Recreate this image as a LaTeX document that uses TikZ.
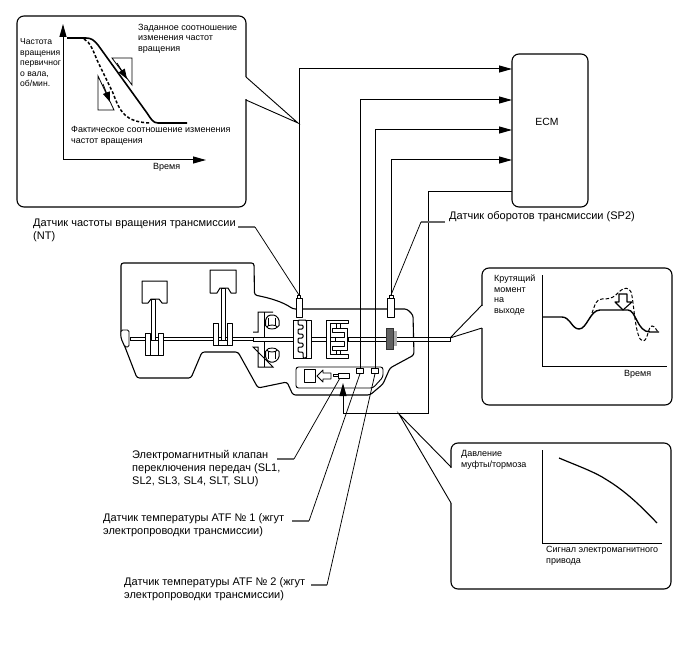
\documentclass[tikz,border=0pt]{standalone}
\usepackage{fontspec}
\setmainfont{Liberation Sans}
\usetikzlibrary{arrows.meta}
\tikzset{
  x=1pt,y=-1pt,
  flow/.style={line width=1pt,black,-{Triangle[length=13pt,width=7pt]}},
  lead/.style={line width=0.75pt,black},
  leadbar/.style={line width=1.3pt,black!60},
  panel/.style={line width=1.1pt,black,rounded corners=7pt,fill=white},
  part/.style={line width=0.9pt,black,fill=white,line join=round},
  note/.style={font=\fontsize{9}{10.5}\selectfont,inner sep=0pt,anchor=west,align=left},
  tag/.style={font=\fontsize{11}{12.8}\selectfont,inner sep=0pt,anchor=west,align=left},
  curve/.style={line width=1.6pt,black,line join=round},
  dashcurve/.style={line width=1.5pt,black,dash pattern=on 3pt off 2pt},
}
\begin{document}
\begin{tikzpicture}
\useasboundingbox (0,0) rectangle (688,658);

% Callout panels: the border is opened where the pointer leaves it
\draw[panel] (17,16) rectangle (246,207);
\fill[white] (245,77.5) -- (247,77.5) -- (247,99.5) -- (245,99.5) -- cycle;
\draw[lead,line width=0.9pt] (246,77) -- (298,123) -- (246,100);

\draw[panel] (482,268) rectangle (672,405);
\fill[white] (481,305.5) -- (483,305.5) -- (483,327.5) -- (481,327.5) -- cycle;
\draw[lead,line width=0.9pt] (482,305) -- (450,338) -- (482,328);

\draw[panel] (451,443) rectangle (671,589);
\fill[white] (450,467.5) -- (452,467.5) -- (452,502.5) -- (450,502.5) -- cycle;
\draw[lead,line width=0.9pt] (451,467) -- (399,414) -- (451,503);

% Speed ratio graph
\coordinate (gaO) at (63,160);
\coordinate (gaY) at (63,24);
\coordinate (gaX) at (206,160);
\draw[flow] (gaO) -- (gaY);
\draw[flow] (gaO) -- (gaX);
\draw[curve] (67,38) -- (86,38) .. controls (91,38) and (94,40) .. (98,45) -- (147,113) .. controls (151,119) and (153,123) .. (158,123) -- (187,123);
\draw[dashcurve] (84,39) .. controls (90,42) and (93,50) .. (97,60) -- (113,93) .. controls (120,112) and (125,122) .. (150,123);
\draw[line width=0.8pt] (112,58) -- (132,58) -- (132,85) -- cycle;
\draw[line width=0.8pt] (98,76) -- (98,110) -- (114,110) -- cycle;
\coordinate (rA) at (117,63);
\coordinate (rB) at (127,79);
\coordinate (rC) at (103,84);
\coordinate (rD) at (110,102);
\draw[line width=0.8pt,-{Triangle[length=10pt,width=7pt]}] (rA) -- (rB);
\draw[line width=0.8pt,-{Triangle[length=10pt,width=7pt]}] (rC) -- (rD);
\node[note] (tGiven) at (138,38.5) {Заданное соотношение\\изменения частот\\вращения};
\node[note,font=\fontsize{8.6}{10.5}\selectfont] (tInput) at (20,63) {Частота\\вращения\\первичног\\о вала,\\об/мин.};
\node[note] (tActual) at (71,136) {Фактическое соотношение изменения\\частот вращения};
\node[note] (tTimeA) at (153,167) {Время};

% Torque graph
\coordinate (gbO) at (542,366);
\draw[line width=0.8pt] (542,275) -- (gbO) -- (667,366);
\draw[curve,line width=1.4pt] (542,317) -- (562,317) .. controls (570,317) and (572,329) .. (579,329) .. controls (587,329) and (590,310) .. (600,310) -- (628,310) .. controls (636,310) and (637,332) .. (650,332) -- (659,332);
\draw[line width=1pt,dash pattern=on 3.5pt off 2pt] (592,313) .. controls (595,305) and (596,299) .. (602,299) .. controls (612,299) and (614,297) .. (619,292) .. controls (624,287) and (629,287) .. (631,292) .. controls (634,300) and (635,341) .. (643,341) .. controls (648,341) and (648,326) .. (652,326) .. controls (655,326) and (656,330) .. (658,332);
\draw[part,line width=1.1pt] (623,310) -- (615,302) -- (619,302) -- (619,294) -- (627,294) -- (627,302) -- (632,302) -- cycle;
\node[note] (tTorque) at (494,295) {Крутящий\\момент\\на\\выходе};
\node[note] (tTimeB) at (624,374) {Время};

% Pressure graph
\draw[line width=0.8pt] (542,450) -- (542,543) -- (662,543);
\draw[curve,line width=1.2pt] (559,458) .. controls (578,466) and (595,472) .. (607,480) .. controls (625,491) and (640,505) .. (657,523);
\node[note] (tPressure) at (461,460) {Давление\\муфты/тормоза};
\node[note] (tSignal) at (546,556) {Сигнал электромагнитного\\привода};

% Engine and transmission housing
\draw[line width=1.1pt,line join=round,rounded corners=2.5pt]
  (121,338) -- (121,263) -- (254,263) -- (254.5,295)
  .. controls (270,298) and (283,302) .. (293,309)
  -- (407,309) -- (413,315) -- (414,355) -- (390,368) -- (383,384) -- (370,395)
  -- (293,395) -- (287,382) -- (258,388) -- (238,352) -- (202,352) -- (191,378)
  -- (137,378) -- (125,347) -- cycle;

% Crankshaft, flywheel and output shaft
\draw[line width=0.9pt,fill=white] (130,337) rectangle (253,340);
\draw[line width=0.9pt,fill=white,rounded corners=1.5pt] (121,330) -- (129,330) -- (129,347) -- (125,347) -- (121,338) -- cycle;
\draw[line width=0.9pt,fill=white] (260,337.5) rectangle (450,341);

% Pistons
\draw[part,line width=1pt] (142,281) -- (167,281) -- (167,303) -- (162,303) -- (159,299) -- (151,299) -- (148,303) -- (142,303) -- cycle;
\draw[part] (145,333) rectangle (150,355);
\draw[part] (158,333) rectangle (163,355);
\draw[part] (150,340) rectangle (158,355);
\draw[part] (151.5,299) rectangle (155,340);
\draw[part,line width=1pt] (210,270) -- (236,270) -- (236,293) -- (231,293) -- (228,288) -- (220,288) -- (217,293) -- (210,293) -- cycle;
\draw[part] (213,323) rectangle (218,345);
\draw[part] (227,323) rectangle (232,345);
\draw[part] (218,340) rectangle (227,345);
\draw[part] (221,288) rectangle (225,340);

% Torque converter
\draw[line width=1pt,fill=white] (253,332) -- (258,332) -- (258,312) -- (273,312) (273,367) -- (258,367) -- (258,347) -- (253,347) -- cycle;
\draw[line width=1pt] (264,312) -- (264,367);
\foreach \cy/\dy in {323/1,354/-1} {
  \draw[part,line width=1pt,rounded corners=1.5pt] (265.5,\cy-4*\dy) -- (269,\cy-8*\dy) -- (275,\cy-8*\dy) -- (279,\cy-4*\dy) -- (279,\cy+4*\dy) -- (265.5,\cy+4*\dy) -- cycle;
  \draw[line width=0.9pt,fill=white] (272,\cy+4*\dy) ellipse (5 and 2);
  \draw[line width=0.8pt] (268.5,\cy-5*\dy) -- (268.5,\cy+2*\dy) (275.5,\cy-5*\dy) -- (275.5,\cy+2*\dy);
}
\draw[line width=0.9pt,fill=white] (253,337.5) rectangle (293,341);

% Planetary gear set
\draw[part] (293,320) rectangle (311,358);
\draw[line width=0.9pt] (306.5,320) -- (306.5,358);
\draw[line width=1pt,fill=white,rounded corners=1.2pt] (298,320) -- (298,325) -- (303,325) -- (303,329) -- (298,329) -- (298,334) -- (303,334) -- (303,338) -- (298,338) -- (298,343) -- (303,343) -- (303,347) -- (298,347) -- (298,352) -- (303,352) -- (303,358) -- (306.5,358) -- (306.5,320) -- cycle;
\draw[line width=0.9pt,fill=white] (311,337.5) rectangle (326,341);

% Clutch drum
\draw[part] (326,320) -- (348,320) -- (348,323) -- (330,323) -- (330,354) -- (348,354) -- (348,358) -- (326,358) -- cycle;
\draw[part] (332,328) -- (347,328) -- (347,350) -- (332,350) -- (332,346) -- (344,346) -- (344,341) -- (335,341) -- (335,337) -- (344,337) -- (344,332) -- (332,332) -- cycle;
\draw[line width=0.8pt] (336,323) -- (336,328) (340,323) -- (340,328) (336,350) -- (336,354) (340,350) -- (340,354);
\draw[line width=0.9pt,fill=white] (348,337.5) rectangle (386,341);

% Output gear
\fill[black!62] (386,328) rectangle (393,349);
\fill[black!32] (393,331) rectangle (397,346);
\draw[line width=0.6pt,black!80] (386,328) rectangle (393,349);

% Valve body
\draw[part,rounded corners=2.5pt] (296,367) -- (383,367) -- (383,377) -- (373,388) -- (296,388) -- cycle;
\draw[part] (304.5,369) rectangle (315,382);
\draw[part] (317,376) -- (323,370) -- (323,373) -- (331,373) -- (331,379) -- (323,379) -- (323,382) -- cycle;
\draw[part] (338,373) rectangle (349,378);
\draw[part] (333,374.5) rectangle (338,376.5);

% Sensors
\coordinate (ntTop) at (299,295);
\coordinate (spTop) at (391,295);
\draw[part] (296,298) rectangle (302,317);
\draw[part] (297.5,295) rectangle (300.5,298);
\draw[part] (387.5,298) rectangle (394,317);
\draw[part] (389,295) rectangle (393,298);
\node[draw,part,minimum width=7pt,minimum height=4.5pt,inner sep=0pt] (thermA) at (360,371) {};
\node[draw,part,minimum width=7pt,minimum height=4.5pt,inner sep=0pt] (thermB) at (375,371) {};

% ECM and its wiring
\node[draw,line width=1.1pt,rounded corners=7pt,minimum width=76pt,minimum height=153pt,inner sep=0pt] (ecm) at (550,130.5) {};
\node[font=\fontsize{10.4}{12}\selectfont,inner sep=0pt] (ecmText) at (547,122) {ECM};
\coordinate (inA) at (512,69);
\coordinate (inB) at (512,100);
\coordinate (inC) at (512,130);
\coordinate (inD) at (512,160);
\coordinate (outE) at (512,191);
\coordinate (valve) at (343,383);
\coordinate (valveBend) at (343,413);
\coordinate (valveRun) at (428,413);
\draw[flow] (ntTop) -- (299,69) -- (inA);
\draw[flow] (thermA.north) -- (360,100) -- (inB);
\draw[flow] (thermB.north) -- (375,130) -- (inC);
\draw[flow] (spTop) -- (391,160) -- (inD);
\draw[flow] (outE) -- (428,191) -- (valveRun) -- (valveBend) -- (valve);

% Labels with their leaders
\node[tag] (lNT) at (33,230) {Датчик частоты вращения трансмиссии\\(NT)};
\coordinate (lNTa) at (238,227); \coordinate (lNTb) at (255,227);
\draw[leadbar] (lNTa) -- (lNTb);
\draw[lead] (lNTb) -- (ntTop);
\node[tag] (lSP) at (449,217) {Датчик оборотов трансмиссии (SP2)};
\coordinate (lSPa) at (445,222); \coordinate (lSPb) at (421,222);
\draw[leadbar] (lSPa) -- (lSPb);
\draw[lead] (lSPb) -- (spTop);
\node[tag] (lSol) at (132,468.5) {Электромагнитный клапан\\переключения передач (SL1,\\SL2, SL3, SL4, SLT, SLU)};
\coordinate (lSola) at (277,459); \coordinate (lSolb) at (294,459); \coordinate (solEnd) at (340,378);
\draw[leadbar] (lSola) -- (lSolb);
\draw[lead] (lSolb) -- (solEnd);
\node[tag] (lTa) at (103,525.5) {Датчик температуры ATF № 1 (жгут\\электропроводки трансмиссии)};
\coordinate (lTaa) at (292,521); \coordinate (lTab) at (309,521);
\draw[leadbar] (lTaa) -- (lTab);
\draw[lead] (lTab) -- (thermA.south);
\node[tag] (lTb) at (124,589.5) {Датчик температуры ATF № 2 (жгут\\электропроводки трансмиссии)};
\coordinate (lTba) at (311,585); \coordinate (lTbb) at (327,585);
\draw[leadbar] (lTba) -- (lTbb);
\draw[lead] (lTbb) -- (thermB.south);
\end{tikzpicture}
\end{document}
